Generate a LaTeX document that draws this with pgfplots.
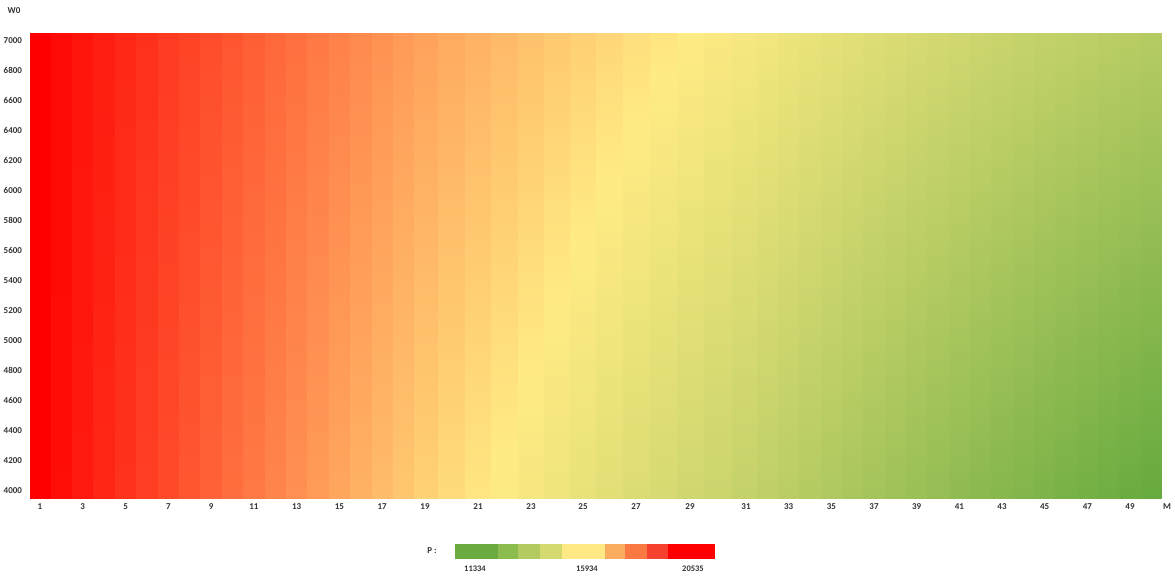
\documentclass[border=0pt]{standalone}
\usepackage{pgfplots}
\pgfplotsset{compat=1.18}
\usepackage{fontspec}
\setmainfont{Carlito}
\definecolor{lg1}{RGB}{106,170,62}
\definecolor{lg2}{RGB}{140,187,78}
\definecolor{lg3}{RGB}{178,202,95}
\definecolor{lg4}{RGB}{212,218,112}
\definecolor{lg5}{RGB}{255,233,132}
\definecolor{lg6}{RGB}{250,172,95}
\definecolor{lg7}{RGB}{250,120,65}
\definecolor{lg8}{RGB}{245,65,45}
\definecolor{lg9}{RGB}{255,0,0}
\begin{document}
\begin{tikzpicture}[x=1pt,y=1pt]
\useasboundingbox (0,0) rectangle (1175,576);
\begin{axis}[
  at={(30pt,78pt)}, anchor=south west,
  scale only axis, width=1132pt, height=465pt,
  view={0}{90},
  xmin=30, xmax=1162, ymin=3950, ymax=7050,
  colormap={pgr}{rgb255(0cm)=(103,170,63); rgb255(1cm)=(255,235,132); rgb255(2cm)=(255,0,0)},
  point meta min=11334, point meta max=20535,
  axis line style={draw=none}, tick style={draw=none},
  xtick={40,82.78,125.56,168.34,211.12,253.9,296.68,339.46,382.24,425.02,478,531,583,636,690,746,788.67,831.33,874,916.67,959.33,1002,1044.67,1087.33,1130},
  xticklabels={1,3,5,7,9,11,13,15,17,19,21,23,25,27,29,31,33,35,37,39,41,43,45,47,49},
  ytick={4000,4200,4400,4600,4800,5000,5200,5400,5600,5800,6000,6200,6400,6600,6800,7000},
  /pgf/number format/1000 sep={},
  /pgf/number format/assume math mode=true,
  ticklabel style={font=\fontsize{9}{10}\selectfont\bfseries, text=black!80},
  xticklabel style={yshift=-2.5pt},
  yticklabel style={xshift=-4.5pt},
]
\addplot3[surf, shader=interp, point meta=z] coordinates {
(30,3950,20535) (50.7,3950,20535)
(50.7,3950,20286) (72.1,3950,20286)
(72.1,3950,20039) (93.5,3950,20039)
(93.5,3950,19794) (114.9,3950,19794)
(114.9,3950,19552) (136.3,3950,19552)
(136.3,3950,19313) (157.6,3950,19313)
(157.6,3950,19077) (179.0,3950,19077)
(179.0,3950,18843) (200.4,3950,18843)
(200.4,3950,18611) (221.8,3950,18611)
(221.8,3950,18382) (243.2,3950,18382)
(243.2,3950,18156) (264.6,3950,18156)
(264.6,3950,17932) (286.0,3950,17932)
(286.0,3950,17711) (307.4,3950,17711)
(307.4,3950,17492) (328.8,3950,17492)
(328.8,3950,17276) (350.2,3950,17276)
(350.2,3950,17063) (371.5,3950,17063)
(371.5,3950,16852) (392.9,3950,16852)
(392.9,3950,16643) (414.3,3950,16643)
(414.3,3950,16438) (438.3,3950,16438)
(438.3,3950,16234) (464.8,3950,16234)
(464.8,3950,16034) (491.3,3950,16034)
(491.3,3950,15836) (517.8,3950,15836)
(517.8,3950,15640) (544.0,3950,15640)
(544.0,3950,15447) (570.0,3950,15447)
(570.0,3950,15257) (596.3,3950,15257)
(596.3,3950,15069) (622.8,3950,15069)
(622.8,3950,14884) (649.5,3950,14884)
(649.5,3950,14701) (676.5,3950,14701)
(676.5,3950,14521) (704.0,3950,14521)
(704.0,3950,14344) (732.0,3950,14344)
(732.0,3950,14169) (756.7,3950,14169)
(756.7,3950,13997) (778.0,3950,13997)
(778.0,3950,13827) (799.3,3950,13827)
(799.3,3950,13660) (820.7,3950,13660)
(820.7,3950,13495) (842.0,3950,13495)
(842.0,3950,13333) (863.3,3950,13333)
(863.3,3950,13173) (884.7,3950,13173)
(884.7,3950,13016) (906.0,3950,13016)
(906.0,3950,12862) (927.3,3950,12862)
(927.3,3950,12710) (948.7,3950,12710)
(948.7,3950,12561) (970.0,3950,12561)
(970.0,3950,12414) (991.3,3950,12414)
(991.3,3950,12270) (1012.7,3950,12270)
(1012.7,3950,12129) (1034.0,3950,12129)
(1034.0,3950,11990) (1055.3,3950,11990)
(1055.3,3950,11854) (1076.7,3950,11854)
(1076.7,3950,11720) (1098.0,3950,11720)
(1098.0,3950,11589) (1119.3,3950,11589)
(1119.3,3950,11460) (1140.7,3950,11460)
(1140.7,3950,11334) (1162,3950,11334)

(30,7050,20535) (50.7,7050,20535)
(50.7,7050,20339) (72.1,7050,20339)
(72.1,7050,20145) (93.5,7050,20145)
(93.5,7050,19953) (114.9,7050,19953)
(114.9,7050,19764) (136.3,7050,19764)
(136.3,7050,19577) (157.6,7050,19577)
(157.6,7050,19393) (179.0,7050,19393)
(179.0,7050,19211) (200.4,7050,19211)
(200.4,7050,19031) (221.8,7050,19031)
(221.8,7050,18854) (243.2,7050,18854)
(243.2,7050,18679) (264.6,7050,18679)
(264.6,7050,18506) (286.0,7050,18506)
(286.0,7050,18336) (307.4,7050,18336)
(307.4,7050,18168) (328.8,7050,18168)
(328.8,7050,18003) (350.2,7050,18003)
(350.2,7050,17839) (371.5,7050,17839)
(371.5,7050,17679) (392.9,7050,17679)
(392.9,7050,17520) (414.3,7050,17520)
(414.3,7050,17364) (438.3,7050,17364)
(438.3,7050,17210) (464.8,7050,17210)
(464.8,7050,17059) (491.3,7050,17059)
(491.3,7050,16910) (517.8,7050,16910)
(517.8,7050,16764) (544.0,7050,16764)
(544.0,7050,16619) (570.0,7050,16619)
(570.0,7050,16478) (596.3,7050,16478)
(596.3,7050,16338) (622.8,7050,16338)
(622.8,7050,16201) (649.5,7050,16201)
(649.5,7050,16066) (676.5,7050,16066)
(676.5,7050,15934) (704.0,7050,15934)
(704.0,7050,15804) (732.0,7050,15804)
(732.0,7050,15676) (756.7,7050,15676)
(756.7,7050,15551) (778.0,7050,15551)
(778.0,7050,15428) (799.3,7050,15428)
(799.3,7050,15307) (820.7,7050,15307)
(820.7,7050,15189) (842.0,7050,15189)
(842.0,7050,15073) (863.3,7050,15073)
(863.3,7050,14960) (884.7,7050,14960)
(884.7,7050,14849) (906.0,7050,14849)
(906.0,7050,14740) (927.3,7050,14740)
(927.3,7050,14634) (948.7,7050,14634)
(948.7,7050,14530) (970.0,7050,14530)
(970.0,7050,14428) (991.3,7050,14428)
(991.3,7050,14329) (1012.7,7050,14329)
(1012.7,7050,14232) (1034.0,7050,14232)
(1034.0,7050,14137) (1055.3,7050,14137)
(1055.3,7050,14045) (1076.7,7050,14045)
(1076.7,7050,13955) (1098.0,7050,13955)
(1098.0,7050,13868) (1119.3,7050,13868)
(1119.3,7050,13783) (1140.7,7050,13783)
(1140.7,7050,13700) (1162,7050,13700)
};
\end{axis}
\node[font=\fontsize{9}{10}\selectfont\bfseries, text=black!80] at (14,565) {W0};
\node[font=\fontsize{9}{10}\selectfont\bfseries, text=black!80] at (1167,69) {M};
\node[font=\fontsize{9}{10}\selectfont\bfseries, text=black!80] at (432,25) {P :};
\fill[lg1] (455,17) rectangle (498,32);
\fill[lg2] (498,17) rectangle (518,32);
\fill[lg3] (518,17) rectangle (540,32);
\fill[lg4] (540,17) rectangle (562,32);
\fill[lg5] (562,17) rectangle (605,32);
\fill[lg6] (605,17) rectangle (625,32);
\fill[lg7] (625,17) rectangle (647,32);
\fill[lg8] (647,17) rectangle (668,32);
\fill[lg9] (668,17) rectangle (715,32);
\node[font=\fontsize{8.5}{9}\selectfont\bfseries, text=black!80] at (475,7) {11334};
\node[font=\fontsize{8.5}{9}\selectfont\bfseries, text=black!80] at (587,7) {15934};
\node[font=\fontsize{8.5}{9}\selectfont\bfseries, text=black!80] at (693,7) {20535};
\end{tikzpicture}
\end{document}
